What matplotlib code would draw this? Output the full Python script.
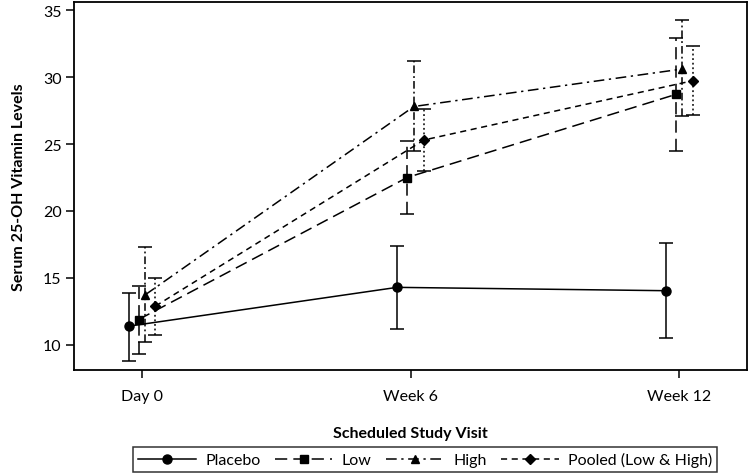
import matplotlib
matplotlib.use("Agg")
import matplotlib.pyplot as plt
from matplotlib.lines import Line2D
import numpy as np

plt.rcParams["font.family"] = ["Lato", "DejaVu Sans"]

visits = ["Day 0", "Week 6", "Week 12"]
groups = ["Placebo", "Low", "High", "Pooled (Low & High)"]

# means and error bar bounds per group
placebo_mean = [11.4, 14.3, 14.05]
placebo_low = [8.8, 11.2, 10.5]
placebo_high = [13.9, 17.4, 17.6]

low_mean = [11.9, 22.5, 28.7]
low_low = [9.3, 19.8, 24.45]
low_high = [14.4, 25.2, 32.9]

high_mean = [13.75, 27.8, 30.6]
high_low = [10.25, 24.45, 27.07]
high_high = [17.34, 31.2, 34.25]

pooled_mean = [12.9, 25.3, 29.72]
pooled_low = [10.77, 23.0, 27.16]
pooled_high = [15.0, 27.6, 32.35]

# style per group: offset, marker, line style, error bar style
styles = [
    (-0.05, "o", "-", "-"),
    (-0.0125, "s", (0, (8, 4)), (0, (8, 4))),
    (0.0125, "^", (0, (7, 3, 1.5, 3)), (0, (5, 2, 1.2, 2))),
    (0.05, "D", (0, (4, 3)), (0, (1.2, 1.8))),
]
series = [
    (placebo_mean, placebo_low, placebo_high),
    (low_mean, low_low, low_high),
    (high_mean, high_low, high_high),
    (pooled_mean, pooled_low, pooled_high),
]

fig = plt.figure(figsize=(7.5, 4.77), dpi=100)
ax = fig.add_axes([0.0987, 0.2222, 0.897, 0.7715])

x = np.arange(len(visits))
handles = []
for name, (mean, lo, hi), (off, mk, ls, els) in zip(groups, series, styles):
    mean = np.array(mean)
    yerr = [mean - np.array(lo), np.array(hi) - mean]
    ms = 6.5 if mk == "o" else 5.5
    eb = ax.errorbar(x + off, mean, yerr=yerr, color="black", lw=1.1,
                     linestyle=ls, marker=mk, markersize=ms,
                     capsize=5, capthick=1.1, elinewidth=1.1)
    for bl in eb[2]:
        bl.set_linestyle(els)
    handles.append(Line2D([], [], color="black", lw=1.1, linestyle=ls,
                          marker=mk, markersize=ms))

ax.set_xlim(-0.253, 2.252)
ax.set_ylim(8.13, 35.6)
ax.set_xticks(x)
ax.set_xticklabels(visits)
ax.set_yticks([10, 15, 20, 25, 30, 35])
ax.tick_params(direction="out", length=6, width=1.1, labelsize=11.5, pad=3)
ax.tick_params(axis="x", pad=8)
for sp in ax.spines.values():
    sp.set_linewidth(1.3)

ax.set_xlabel("Scheduled Study Visit", fontsize=11.5, fontweight="bold", labelpad=16)
ax.set_ylabel("Serum 25-OH Vitamin Levels", fontsize=11.5, fontweight="bold", labelpad=12)

leg = fig.legend(handles, groups, loc="center", bbox_to_anchor=(0.567, 0.034),
                 ncol=4, frameon=True, fancybox=False, edgecolor="black",
                 fontsize=11.5, handlelength=3.6, columnspacing=0.9,
                 handletextpad=0.6, borderpad=0.3)
leg.get_frame().set_linewidth(1.1)

fig.savefig("out.png", dpi=100)
